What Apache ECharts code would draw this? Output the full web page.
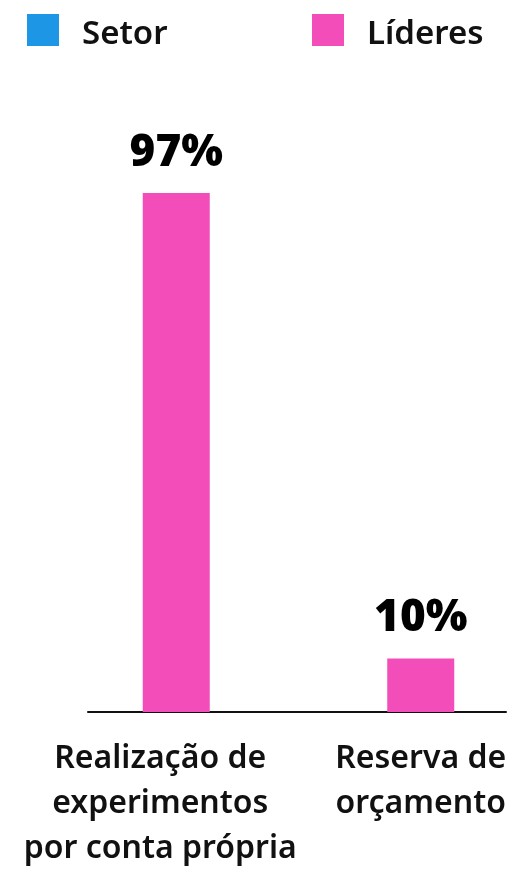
<!DOCTYPE html>
<html>
<head>
<meta charset="utf-8">
<script src="https://cdn.jsdelivr.net/npm/echarts@6/dist/echarts.min.js"></script>
<style>
  html, body { margin: 0; padding: 0; background: #fff; }
  #chart { width: 512px; height: 874px; }
</style>
</head>
<body>
<div id="chart"></div>
<script>
// Share of respondents (%), by practice
const categories = [
  'Realização de\nexperimentos\npor conta própria',
  'Reserva de\norçamento'
];
const seriesNames = ['Setor', 'Líderes'];
const setorValues = [null, null];
const lideresValues = [97, 10];

const BLUE = '#1E96E6';
const PINK = '#F24DB8';
const FONT = '"Noto Sans", "Open Sans", sans-serif';

const chart = echarts.init(document.getElementById('chart'), null, { renderer: 'canvas' });

// legend label nudged down a little against its square swatch
const legendText = {
  fontFamily: FONT, fontSize: 33, fontWeight: 600, color: '#111',
  rich: { t: { fontFamily: FONT, fontSize: 33, fontWeight: 600, color: '#111', padding: [10, 0, 0, 18] } }
};

chart.setOption({
  animation: false,
  backgroundColor: '#fff',
  legend: [
    { data: [seriesNames[0]], left: 27, top: 14, padding: 0, itemWidth: 32, itemHeight: 32, icon: 'rect', formatter: '{t|{name}}', textStyle: legendText },
    { data: [seriesNames[1]], left: 312, top: 14, padding: 0, itemWidth: 32, itemHeight: 32, icon: 'rect', formatter: '{t|{name}}', textStyle: legendText }
  ],
  grid: [
    // plotting area for the bars
    { left: 54, width: 489, top: 177, bottom: 162, containLabel: false, outerBoundsMode: 'none' },
    // baseline span
    { left: 88, right: 6, top: 177, bottom: 162, containLabel: false, outerBoundsMode: 'none' }
  ],
  xAxis: [
    {
      type: 'category',
      gridIndex: 0,
      data: categories.map((c, i) => i === 0
        ? { value: c, textStyle: { padding: [0, 32, 0, 0] } }
        : { value: c }),
      axisLine: { show: false },
      axisTick: { show: false },
      axisLabel: {
        interval: 0,
        margin: 24,
        fontFamily: FONT,
        fontSize: 32,
        fontWeight: 600,
        lineHeight: 45,
        color: '#111'
      }
    },
    {
      type: 'category',
      gridIndex: 1,
      data: categories.map(() => ''),
      axisLine: { show: true, lineStyle: { color: '#111', width: 2 } },
      axisTick: { show: false },
      axisLabel: { show: false }
    }
  ],
  yAxis: [
    { type: 'value', gridIndex: 0, min: 0, max: 100, show: false },
    { type: 'value', gridIndex: 1, min: 0, max: 100, show: false }
  ],
  series: [
    {
      name: seriesNames[0],
      type: 'bar',
      xAxisIndex: 0, yAxisIndex: 0,
      data: setorValues,
      itemStyle: { color: BLUE },
      barWidth: 67,
      barGap: '-100%'
    },
    {
      name: seriesNames[1],
      type: 'bar',
      xAxisIndex: 0, yAxisIndex: 0,
      data: lideresValues,
      itemStyle: { color: PINK },
      barWidth: 67,
      label: {
        show: true,
        position: 'top',
        distance: 18,
        formatter: p => p.value + '%',
        fontFamily: '"Open Sans", sans-serif',
        fontSize: 44,
        fontWeight: 800,
        color: '#000'
      }
    }
  ]
});
</script>
</body>
</html>
